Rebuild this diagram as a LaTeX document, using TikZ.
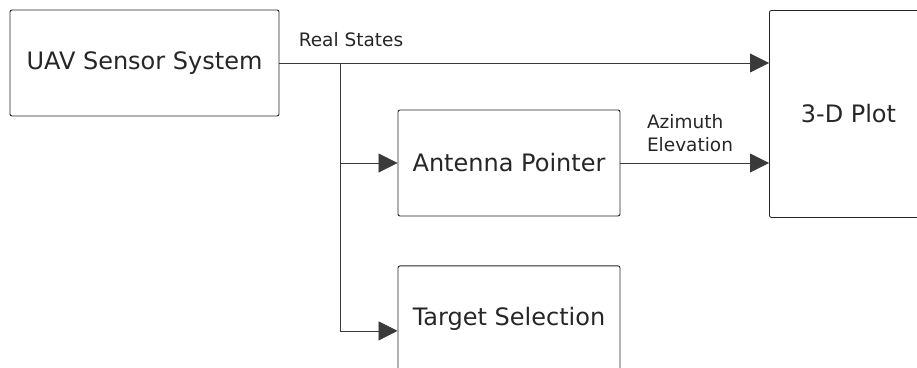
\documentclass[tikz,border=0pt]{standalone}
\usepackage{fontspec}
\setmainfont{DejaVu Sans}
\usepackage{tikz}
\usetikzlibrary{shapes,arrows,arrows.meta,fit,calc,positioning}
\definecolor{ink}{HTML}{262626}
\definecolor{wire}{HTML}{3A3A3A}
\tikzset{blk/.style={draw=ink, rectangle, rounded corners=2pt, line width=0.9pt, inner sep=0pt, text=ink, font=\fontsize{24}{29}\selectfont}}
\tikzstyle{lbl}=[text=ink, inner sep=0pt, align=left, font=\fontsize{18.5}{23}\selectfont]

\begin{document}
\begin{tikzpicture}[x=1pt, y=-1pt, >={Triangle[length=19pt, width=19pt]}, line width=0.8pt]
\useasboundingbox (0,0) rectangle (917,367);
\node[blk, minimum width=269pt, minimum height=106pt] at (144.5,63) (uav){UAV Sensor System};
\node[blk, minimum width=222pt, minimum height=106pt] at (509,163) (ant){Antenna Pointer};
\node[blk, minimum width=222pt, minimum height=106pt][below=49pt of ant] (sel){Target Selection};
\node[blk, minimum width=158pt, minimum height=207pt, anchor=north west] at (769,10) (plot){3-D Plot};
\coordinate (split) at ($(uav.east)+(61,0)$);
\coordinate (selin) at ($(sel.west)+(0,12)$);

\node[lbl] at (351,40) (rs){Real States};
\node[lbl] at (690,133) (ae){Azimuth\\Elevation};

\draw[wire, ->] (uav.east) -- (plot.west |- uav.east);
\draw[wire, ->] (split) |- (ant.west);
\draw[wire, ->] (split) |- (selin);
\draw[wire, ->] (ant.east) -- (plot.west |- ant.east);
\end{tikzpicture}
\end{document}
